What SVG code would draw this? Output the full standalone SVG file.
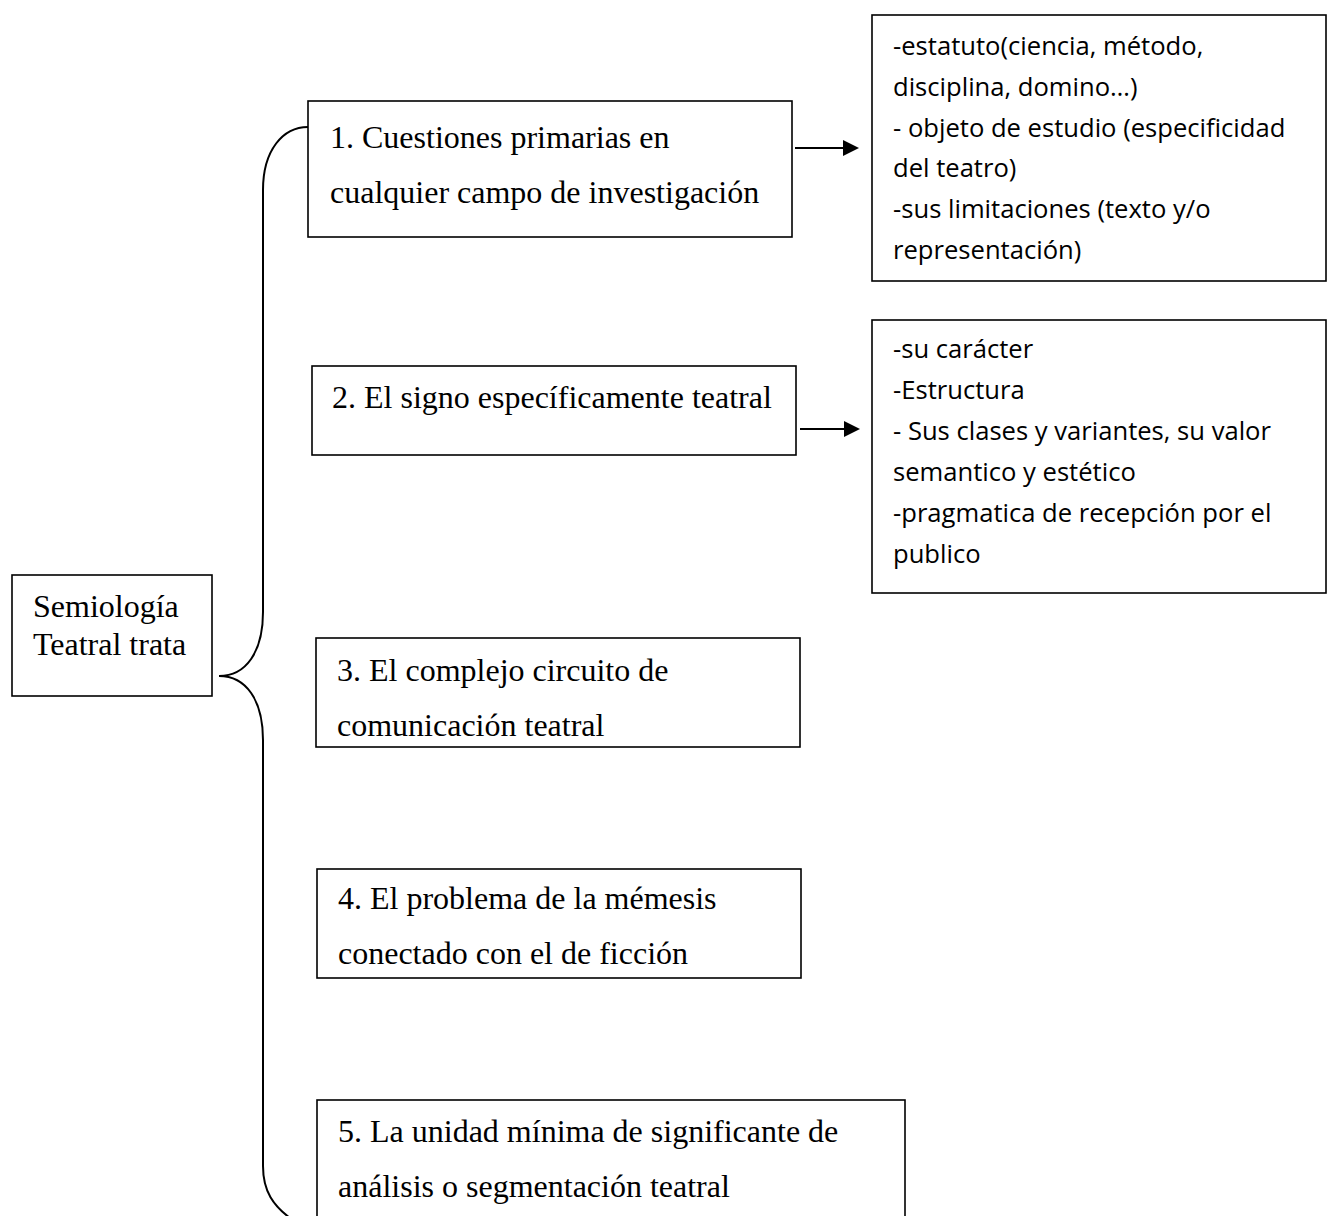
<svg xmlns="http://www.w3.org/2000/svg" width="1328" height="1216" viewBox="0 0 1328 1216">
<style>
.box{fill:#fff;stroke:#000;stroke-width:1.6}
.t{font-family:"Liberation Serif","Times New Roman",serif;font-size:32px;fill:#000}
.s{font-family:"Open Sans","Noto Sans",sans-serif;font-size:25.6px;fill:#000}
.ln{fill:none;stroke:#000;stroke-width:2}
</style>
<defs>
<marker id="ah" markerWidth="8" markerHeight="8" refX="7" refY="4" orient="auto" markerUnits="strokeWidth">
<path d="M0,0 L8,4 L0,8 Z" fill="#000"/>
</marker>
</defs>
<rect width="1328" height="1216" fill="#fff"/>
<g id="connectors">
<path class="ln" d="M308,127 C283,127 263,150 263,190 L263,612 C263,652 246,676 219,676 C246,676 263,700 263,740 L263,1166 C263,1192 274,1206 290,1218"/>
<line class="ln" x1="795" y1="148" x2="857" y2="148" marker-end="url(#ah)"/>
<line class="ln" x1="800" y1="429" x2="858" y2="429" marker-end="url(#ah)"/>
</g>
<g id="root">
<rect class="box" x="12" y="575" width="200" height="121"/>
<text class="t" x="33" y="617">Semiología</text>
<text class="t" x="33" y="655">Teatral trata</text>
</g>
<g id="n1">
<rect class="box" x="308" y="101" width="484" height="136"/>
<text class="t" x="330" y="148">1. Cuestiones primarias en</text>
<text class="t" x="330" y="203">cualquier campo de investigación</text>
</g>
<g id="n2">
<rect class="box" x="312" y="366" width="484" height="89"/>
<text class="t" x="332" y="408">2. El signo específicamente teatral</text>
</g>
<g id="n3">
<rect class="box" x="316" y="638" width="484" height="109"/>
<text class="t" x="337" y="681">3. El complejo circuito de</text>
<text class="t" x="337" y="736">comunicación teatral</text>
</g>
<g id="n4">
<rect class="box" x="317" y="869" width="484" height="109"/>
<text class="t" x="338" y="909">4. El problema de la mémesis</text>
<text class="t" x="338" y="964">conectado con el de ficción</text>
</g>
<g id="n5">
<rect class="box" x="317" y="1100" width="588" height="130"/>
<text class="t" x="338" y="1142">5. La unidad mínima de significante de</text>
<text class="t" x="338" y="1197">análisis o segmentación teatral</text>
</g>
<g id="d1">
<rect class="box" x="872" y="15" width="454" height="266"/>
<text class="s" x="893" y="55">-estatuto(ciencia, método,</text>
<text class="s" x="893" y="96">disciplina, domino…)</text>
<text class="s" x="893" y="137">- objeto de estudio (especificidad</text>
<text class="s" x="893" y="177">del teatro)</text>
<text class="s" x="893" y="218">-sus limitaciones (texto y/o</text>
<text class="s" x="893" y="259">representación)</text>
</g>
<g id="d2">
<rect class="box" x="872" y="320" width="454" height="273"/>
<text class="s" x="893" y="358">-su carácter</text>
<text class="s" x="893" y="399">-Estructura</text>
<text class="s" x="893" y="440">- Sus clases y variantes, su valor</text>
<text class="s" x="893" y="481">semantico y estético</text>
<text class="s" x="893" y="522">-pragmatica de recepción por el</text>
<text class="s" x="893" y="563">publico</text>
</g>
</svg>
